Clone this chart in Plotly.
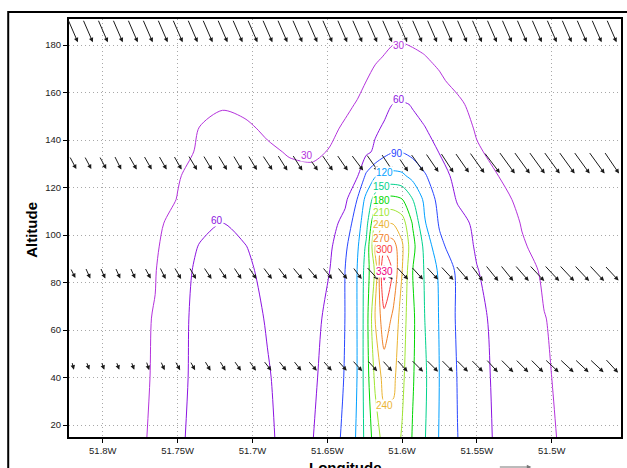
import plotly.graph_objects as go

# ---------------------------------------------------------------------------
# Concentration field on a longitude / altitude grid
# ---------------------------------------------------------------------------
lon_grid = [-51.825, -51.800, -51.780, -51.765, -51.750, -51.735, -51.720, -51.705,
            -51.690, -51.675, -51.660, -51.648, -51.638, -51.630, -51.624, -51.618,
            -51.612, -51.606, -51.600, -51.593, -51.585, -51.575, -51.563, -51.550,
            -51.535, -51.520, -51.505, -51.490, -51.470, -51.450]

alt_grid = [14, 40, 65, 85, 95, 105, 115, 125, 135, 145, 155, 165, 175, 185, 192]

conc_z14 = [12, 18, 25, 33, 56, 68, 74, 70, 64, 52, 59, 78, 96, 124, 160, 193, 222, 225, 207, 178,
            152, 118, 90.5, 71, 55, 45, 35, 26, 20, 15]
conc_z40 = [12, 18, 25, 31.5, 53, 68, 75, 70, 62, 50, 55, 72, 92, 120.5, 165, 216, 252, 248, 217, 183,
            155, 119.5, 89, 69, 54, 43, 32, 26, 20, 15]
conc_z65 = [12, 18, 25, 31, 52, 68, 76, 70, 58, 48, 52, 67, 90.5, 120.5, 165, 240.5, 290, 264, 225, 186,
            150.5, 118, 86, 67, 52, 41, 30.5, 25, 19, 14]
conc_z85 = [12, 18, 24, 29, 49, 66, 74, 66, 52, 44, 48, 60.5, 90.5, 120.5, 162, 215, 340, 295, 240.5, 180.5,
            148, 115, 85, 61, 49, 38, 27, 22, 17, 13]
conc_z95 = [12, 17, 23, 27, 44, 62, 69, 61, 50, 42, 44, 56, 85, 115, 155, 240.5, 292, 285, 245, 190,
            143, 97, 75, 57, 45, 32, 24, 20, 16, 12]
conc_z105 = [11, 16, 22, 25, 38, 52, 60.5, 53, 45, 39, 41, 49, 70, 107, 138, 210.5, 238, 238, 225, 178,
             123, 87, 68, 55, 42, 29, 22, 18, 15, 11]
conc_z115 = [10, 15, 20, 23, 30.5, 40, 45, 44, 40, 37, 38, 44, 54, 90.5, 128, 162, 187, 188, 181, 150.5,
             114, 80, 58, 47, 35, 26, 20, 16, 13, 10]
conc_z125 = [9, 13, 18, 21, 29, 35, 38, 37, 35, 33, 34, 40, 48, 57, 95, 117, 126, 128, 125, 111,
             93, 71, 52, 42, 29.5, 23, 18, 14, 11, 9]
conc_z135 = [8, 12, 17, 20, 25, 32, 35, 34, 32, 29, 27, 31, 37, 45, 54, 65, 80, 89, 89, 82,
             72, 59, 45, 32, 25, 19, 15, 12, 10, 8]
conc_z145 = [7, 11, 15, 18, 23, 30.5, 33, 32, 28, 24, 24, 27, 32, 40, 48, 56, 63, 67, 67, 64,
             61, 50, 39, 28, 22, 17, 13, 11, 9, 7]
conc_z155 = [6, 9, 13, 16, 20, 25, 29, 27, 24, 21, 21, 24, 27, 31, 38, 46, 53, 60.5, 62, 59,
             51, 42, 33, 25, 19, 15, 12, 10, 8, 6]
conc_z165 = [5, 8, 11, 13, 16, 19, 21, 21, 19, 17, 17, 19, 22, 26, 29.8, 34, 38, 41, 42, 40,
             37, 32, 26, 20, 16, 13, 10, 9, 7, 5]
conc_z175 = [4, 7, 9, 11, 13, 15, 17, 17, 16, 15, 15, 17, 19, 22, 25, 28, 30.5, 33, 33.5, 32,
             30.5, 27, 22, 17, 13, 11, 9, 7, 6, 4]
conc_z185 = [4, 6, 8, 9, 11, 13, 14, 14, 13, 13, 13, 15, 17, 19, 21, 23, 25, 27, 27.5, 27,
             25, 22, 18, 14, 11, 9, 7, 6, 5, 4]
conc_z192 = [3, 5, 7, 8, 10, 11, 12, 12, 12, 12, 12, 13, 15, 17, 19, 21, 23, 24, 24.5, 24,
             22, 20, 16, 12, 10, 8, 6, 5, 4, 3]

conc = [conc_z14, conc_z40, conc_z65, conc_z85, conc_z95, conc_z105, conc_z115, conc_z125,
        conc_z135, conc_z145, conc_z155, conc_z165, conc_z175, conc_z185, conc_z192]

# Contour levels and their colours (GrADS rainbow sequence)
levels = [30, 60, 90, 120, 150, 180, 210, 240, 270, 300, 330]
level_colors = ["rgb(180,50,220)", "rgb(140,20,225)", "rgb(40,70,255)", "rgb(0,160,255)",
                "rgb(0,210,140)", "rgb(0,215,0)", "rgb(160,230,50)", "rgb(235,180,50)",
                "rgb(240,130,40)", "rgb(250,60,60)", "rgb(240,0,130)"]

# Contour labels: level and where it is written along its line
label_level = [30, 30, 60, 60, 90, 120, 150, 180, 210, 240, 270, 300, 330, 240]
label_lon = [-51.6023, -51.6635, -51.6023, -51.7234, -51.6036, -51.6120, -51.6140, -51.6140,
             -51.6135, -51.6135, -51.6135, -51.6120, -51.6120, -51.6120]
label_alt = [180.0, 133.3, 157.0, 106.0, 134.5, 126.5, 120.6, 114.7,
             109.3, 104.6, 98.7, 93.7, 84.8, 28.4]

# ---------------------------------------------------------------------------
# Wind vectors (u: eastward, w: vertical) on four levels
# ---------------------------------------------------------------------------
vec_lon = [-51.82, -51.81, -51.80, -51.79, -51.78, -51.77, -51.76, -51.75, -51.74, -51.73,
           -51.72, -51.71, -51.70, -51.69, -51.68, -51.67, -51.66, -51.65, -51.64, -51.63,
           -51.62, -51.61, -51.60, -51.59, -51.58, -51.57, -51.56, -51.55, -51.54, -51.53,
           -51.52, -51.51, -51.50, -51.49, -51.48, -51.47, -51.46]
vec_alt = [186, 130.5, 84, 45]

u_186 = [10, 10, 10, 10, 10, 10, 10, 10, 10, 10, 10, 10, 10, 10, 10, 10, 10, 10, 10,
         10, 10, 10, 10, 10, 10, 10, 10, 10, 10, 10, 10, 10, 10, 10, 10, 10, 10]
w_186 = [-23, -23, -23, -23, -23, -23, -23, -23, -23, -23, -23, -23, -23, -23, -23, -23, -23, -23, -23,
         -23, -23, -23, -23, -23, -23, -23, -23, -23, -23, -23, -23, -23, -23, -23, -23, -23, -23]
u_130 = [7, 7, 7, 7, 8, 8, 8, 8, 9, 9, 9, 9, 9, 10, 10, 10, 11, 11, 11,
         12, 12, 12, 12, 13, 13, 13, 14, 15, 16, 16, 16, 16, 16, 16, 16, 16, 15]
w_130 = [-13, -13, -13, -14, -14, -14, -14, -14, -15, -15, -15, -15, -15, -15, -16, -16, -16, -16, -16,
         -16, -17, -18, -18, -18, -19, -20, -20, -21, -21, -22, -22, -22, -22, -22, -22, -22, -22]
u_84 = [5, 5, 5, 5, 5, 6, 6, 7, 7, 8, 8, 8, 8, 9, 9, 10, 10, 10, 10,
        9, 12, 11, 12, 12, 12, 13, 13, 12, 13, 13, 14, 15, 15, 15, 15, 15, 14]
w_84 = [-10, -11, -11, -11, -11, -11, -12, -12, -12, -12, -12, -12, -12, -12, -12, -12, -12, -12, -12,
        -12, -13, -13, -13, -13, -13, -14, -15, -16, -16, -16, -16, -16, -16, -16, -16, -16, -15]
u_45 = [2, 3, 3, 3, 3, 3, 4, 5, 5, 6, 6, 7, 7, 8, 8, 8, 9, 9, 9,
        10, 10, 10, 11, 12, 12, 12, 12, 12, 12, 13, 13, 13, 14, 14, 14, 14, 13]
w_45 = [-8, -8, -8, -8, -8, -9, -9, -9, -9, -10, -10, -10, -10, -10, -10, -10, -10, -10, -10,
        -11, -11, -11, -12, -12, -12, -12, -12, -12, -13, -13, -13, -13, -13, -13, -13, -13, -14]

u_rows = [u_186, u_130, u_84, u_45]
w_rows = [w_186, w_130, w_84, w_45]

# Axis set-up
x_range = [-51.8226, -51.4537]
y_range = [14.95, 190.95]
x_tick_vals = [-51.80, -51.75, -51.70, -51.65, -51.60, -51.55, -51.50]
x_tick_text = ["51.8W", "51.75W", "51.7W", "51.65W", "51.6W", "51.55W", "51.5W"]
y_tick_vals = [20, 40, 60, 80, 100, 120, 140, 160, 180]

FIG_W, FIG_H = 627, 468
M_L, M_R, M_T, M_B = 69, 4, 19, 31
PLOT_W = FIG_W - M_L - M_R
PLOT_H = FIG_H - M_T - M_B
VEC_PX = 1.0  # pixels per vector unit

px_per_lon = PLOT_W / (x_range[1] - x_range[0])
px_per_alt = PLOT_H / (y_range[1] - y_range[0])

font_family = "Liberation Sans, Arial, sans-serif"

fig = go.Figure()

n_lv = len(levels)
colorscale = [[i / (n_lv - 1), c] for i, c in enumerate(level_colors)]

fig.add_trace(go.Contour(
    x=lon_grid, y=alt_grid, z=conc,
    zmin=levels[0], zmax=levels[-1], autocontour=False,
    contours=dict(start=levels[0], end=levels[-1], size=30, coloring="lines",
                  showlabels=False),
    colorscale=colorscale, showscale=False,
    line=dict(width=1, smoothing=0.8),
    hoverinfo="skip",
))

annotations = []

# Vector arrows, centred on their grid points
for alt, us, ws in zip(vec_alt, u_rows, w_rows):
    for lon, u, w in zip(vec_lon, us, ws):
        dx = u * VEC_PX / px_per_lon
        dy = w * VEC_PX / px_per_alt
        annotations.append(dict(
            x=lon + dx / 2, y=alt + dy / 2,
            ax=lon - dx / 2, ay=alt - dy / 2,
            xref="x", yref="y", axref="x", ayref="y",
            text="", showarrow=True, arrowhead=2, arrowsize=0.9,
            arrowwidth=1, arrowcolor="#1a1a1a", standoff=0,
        ))

# Horizontal contour labels written over a small white mask
color_of = dict(zip(levels, level_colors))
for lv, lo, al in zip(label_level, label_lon, label_alt):
    annotations.append(dict(
        x=lo, y=al, xref="x", yref="y", text=str(lv), showarrow=False,
        xanchor="center", yanchor="middle", bgcolor="white", borderpad=0,
        font=dict(size=10, family=font_family, color=color_of[lv]),
    ))

# Axis titles
annotations.append(dict(text="Altitude", xref="paper", yref="paper",
                        x=(32 - M_L) / PLOT_W, y=0.496, textangle=-90,
                        showarrow=False, xanchor="center", yanchor="middle",
                        font=dict(size=15, family=font_family, color="black", weight="bold")))
annotations.append(dict(text="Longitude", xref="paper", yref="paper",
                        x=0.5, y=-0.047, showarrow=False,
                        xanchor="center", yanchor="top",
                        font=dict(size=15, family=font_family, color="black", weight="bold")))
# Reference vector below the plot
annotations.append(dict(xref="paper", yref="paper", x=(533 - M_L) / PLOT_W, y=-30 / PLOT_H,
                        ax=-33, ay=0, text="", showarrow=True, arrowhead=2, arrowsize=0.9,
                        arrowwidth=1, arrowcolor="#777777"))

axis_common = dict(
    showgrid=True, gridcolor="#a8a8a8", griddash="1px,3px", gridwidth=1,
    showline=True, linecolor="black", linewidth=2, mirror=True,
    ticks="outside", ticklen=4, tickcolor="black", tickwidth=1,
    tickfont=dict(size=9.5, family=font_family, color="#222222"),
    zeroline=False,
)

fig.update_layout(
    width=FIG_W, height=FIG_H,
    margin=dict(l=M_L, r=M_R, t=M_T, b=M_B, pad=0),
    paper_bgcolor="white", plot_bgcolor="white",
    showlegend=False,
    xaxis=dict(range=x_range, tickvals=x_tick_vals, ticktext=x_tick_text, **axis_common),
    yaxis=dict(range=y_range, tickvals=y_tick_vals, **axis_common),
    annotations=annotations,
    shapes=[dict(type="rect", xref="paper", yref="paper",
                 x0=(8 - M_L) / PLOT_W, x1=1.3, y0=-0.5, y1=(PLOT_H + M_T - 12) / PLOT_H,
                 line=dict(color="black", width=2), fillcolor="rgba(0,0,0,0)", layer="above")],
)

fig.write_html("out.html")
